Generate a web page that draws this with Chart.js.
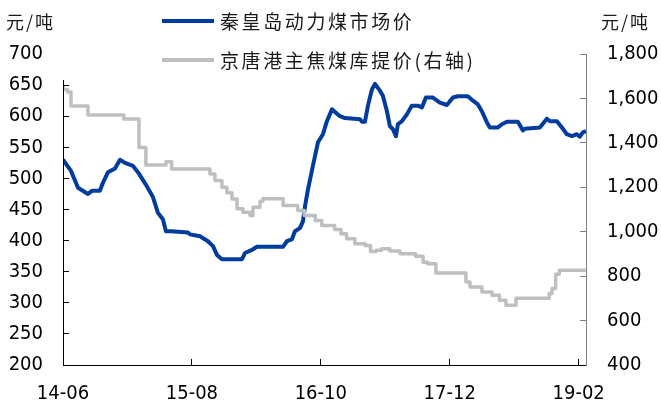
<!DOCTYPE html>
<html lang="zh-CN">
<head>
<meta charset="utf-8" />
<title>秦皇岛动力煤市场价与京唐港主焦煤库提价</title>
<script src="https://cdn.jsdelivr.net/npm/chart.js"></script>
<style>
  body { margin: 0; background: #fff; }
  .wrap { position: relative; width: 661px; height: 407px; font-family: "Noto Sans CJK SC", sans-serif; color: #1a1a1a; }
  .unit { position: absolute; top: 11px; font-size: 18px; line-height: 20px; letter-spacing: 2px; white-space: nowrap; }
  .key { position: absolute; left: 162px; width: 52px; height: 4px; }
  .keyText { position: absolute; left: 220px; font-size: 19px; line-height: 20px; letter-spacing: 2.6px; white-space: nowrap; }
</style>
</head>
<body>
<div class="wrap">
  <canvas id="coalChart"></canvas>
  <div class="unit" style="left:6px">元/吨</div>
  <div class="unit" style="left:601px">元/吨</div>
  <div class="key" style="top:19px;background:#003c9d"></div>
  <div class="keyText" style="top:11px">秦皇岛动力煤市场价</div>
  <div class="key" style="top:58px;background:#bfbfbf"></div>
  <div class="keyText" style="top:50px">京唐港主焦煤库提价(右轴)</div>
</div>
<script>
// x values are months counted from 2014-06
const xTickMonths = [0, 14, 28, 42, 56];
const xTickLabels = ["14-06", "15-08", "16-10", "17-12", "19-02"];

// 秦皇岛动力煤市场价 (元/吨, left axis)
const thermalMonths = [
  0, 0.87, 1.63, 2.71, 3.15, 4.0, 4.34, 4.89, 5.65, 6.19, 6.73, 7.6, 8.14, 9.0,
  9.77, 10.3, 10.86, 11.18, 11.73, 13.57, 13.79, 14.88, 15.74, 16.29, 16.72,
  17.26, 19.44, 19.76, 20.52, 21.06, 23.89, 24.32, 24.86, 25.19, 25.73, 26.06,
  26.28, 26.6, 27.14, 27.69, 28.23, 28.66, 29.21, 30.08, 30.62, 32.25, 32.47,
  32.79, 33.12, 33.55, 33.88, 34.42, 34.74, 35.18, 35.5, 35.83, 36.16, 36.37,
  36.81, 37.35, 37.89, 38.55, 38.98, 39.41, 40.17, 40.93, 41.69, 42.35, 42.89,
  43.97, 44.52, 45.06, 45.49, 46.04, 46.36, 47.23, 47.67, 48.21, 49.4, 49.95,
  50.16, 51.79, 52.55, 52.88, 53.64, 54.18, 54.72, 55.27, 55.81, 56.13, 56.46,
  56.79
];
const thermalPrices = [
  530, 512, 485, 475, 480, 480, 493, 510, 516, 530, 525, 520, 510, 490,
  470, 445, 434, 415, 415, 413, 410, 407, 399, 391, 377,
  370, 370, 380, 385, 390, 390, 399, 402, 415, 420, 431,
  455, 482, 520, 558, 571, 592, 611, 600, 597, 595, 591,
  591, 617, 643, 652, 641, 633, 608, 584, 579, 568, 587,
  592, 603, 617, 617, 614, 630, 630, 622, 618, 630, 632,
  632, 625, 619, 608, 590, 582, 582, 587, 591, 591, 577,
  580, 582, 596, 592, 592, 582, 571, 568, 571, 567, 574,
  576
];

// 京唐港主焦煤库提价 (元/吨, right axis), value holds until the next change
const cokingMonths = [
  0, 0.5, 0.87, 2.71, 6.6, 8.25, 9.0, 11.18, 11.8, 15.96, 16.5, 17.26, 17.8,
  18.35, 18.9, 19.54, 20.3, 20.63, 21.4, 21.7, 23.9, 25.5, 26.2, 27.4, 28.1,
  29.5, 30.2, 30.8, 31.7, 32.8, 33.4, 34.0, 34.6, 35.5, 36.6, 38.3, 39.1,
  39.6, 40.5, 43.76, 44.2, 45.5, 46.6, 47.4, 48.1, 49.2, 52.8, 53.1, 53.5,
  53.9, 56.5, 56.79
];
const cokingPrices = [
  1656, 1640, 1629, 1566, 1525, 1507, 1379, 1300, 1315, 1282, 1260, 1230, 1200,
  1175, 1147, 1103, 1088, 1073, 1110, 1137, 1148, 1118, 1095, 1073, 1050,
  1028, 1010, 991, 968, 946, 938, 911, 916, 923, 913, 901, 889,
  863, 856, 814, 774, 751, 729, 714, 692, 669, 700, 722, 744,
  808, 826, 826
];

const toPoints = (xs, ys) => xs.map((x, i) => ({ x: x, y: ys[i] }));

const tickFont = { family: "'DejaVu Sans Condensed', 'Liberation Sans', sans-serif", size: 20 };

// left axis line stops a little below the top of the plot
const leftAxisLine = {
  id: "leftAxisLine",
  afterDatasetsDraw(chart) {
    const s = chart.scales.y;
    const ctx = chart.ctx;
    ctx.save();
    ctx.strokeStyle = "#000";
    ctx.lineWidth = 1;
    ctx.beginPath();
    ctx.moveTo(s.right + 0.5, s.getPixelForValue(658));
    ctx.lineTo(s.right + 0.5, s.bottom);
    ctx.stroke();
    ctx.restore();
  },
};

new Chart(document.getElementById("coalChart"), {
  type: "line",
  data: {
    datasets: [
      {
        label: "秦皇岛动力煤市场价",
        data: toPoints(thermalMonths, thermalPrices),
        yAxisID: "y",
        borderColor: "#003c9d",
        borderWidth: 4,
        pointRadius: 0,
        tension: 0,
        borderJoinStyle: "round",
        order: 1,
      },
      {
        label: "京唐港主焦煤库提价(右轴)",
        data: toPoints(cokingMonths, cokingPrices),
        yAxisID: "y1",
        borderColor: "#bfbfbf",
        borderWidth: 3.5,
        pointRadius: 0,
        stepped: "after",
        borderJoinStyle: "round",
        order: 0,
      },
    ],
  },
  plugins: [leftAxisLine],
  options: {
    responsive: true,
    maintainAspectRatio: false,
    animation: false,
    layout: { padding: { top: 54, right: 0, bottom: 0, left: 0 } },
    plugins: { legend: { display: false }, tooltip: { enabled: false } },
    scales: {
      x: {
        type: "linear",
        min: 0,
        max: 56.8,
        afterBuildTicks: (s) => { s.ticks = xTickMonths.map((v) => ({ value: v })); },
        afterFit: (s) => { s.height = 42; },
        ticks: {
          font: tickFont,
          color: "#000",
          padding: 23,
          maxRotation: 0,
          callback: (v) => xTickLabels[xTickMonths.indexOf(v)],
        },
        grid: { drawOnChartArea: false, tickLength: -6, tickColor: "#000" },
        border: { color: "#000", width: 1 },
      },
      y: {
        position: "left",
        min: 200,
        max: 700,
        afterFit: (s) => { s.width = 63; },
        ticks: { stepSize: 50, font: tickFont, color: "#000", padding: 26 },
        grid: {
          drawOnChartArea: false,
          tickLength: -6,
          tickColor: (c) => (c.tick && c.tick.value === 700 ? "rgba(0,0,0,0)" : "#000"),
        },
        border: { display: false },
      },
      y1: {
        position: "right",
        min: 400,
        max: 1800,
        afterFit: (s) => { s.width = 75; },
        ticks: {
          stepSize: 200,
          font: tickFont,
          color: "#000",
          padding: 27,
          callback: (v) => v.toLocaleString("en-US"),
        },
        grid: { drawOnChartArea: false, tickLength: -6, tickColor: "#7f7f7f" },
        border: { color: "#7f7f7f", width: 1 },
      },
    },
  },
});
</script>
</body>
</html>
